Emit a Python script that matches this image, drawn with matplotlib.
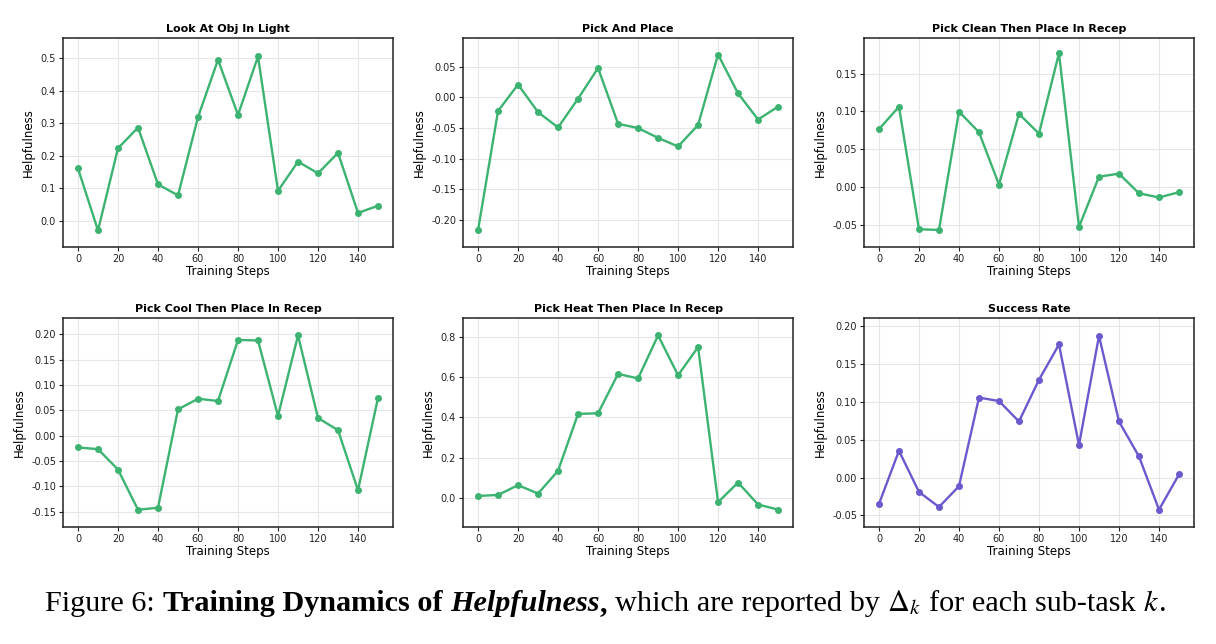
import matplotlib
matplotlib.use("Agg")
import matplotlib.pyplot as plt
import numpy as np

plt.rcParams["axes.unicode_minus"] = False
plt.rcParams["mathtext.fontset"] = "stix"

steps = [0, 10, 20, 30, 40, 50, 60, 70, 80, 90, 100, 110, 120, 130, 140, 150]

titles = [
    "Look At Obj In Light",
    "Pick And Place",
    "Pick Clean Then Place In Recep",
    "Pick Cool Then Place In Recep",
    "Pick Heat Then Place In Recep",
    "Success Rate",
]

look_at_obj = [0.161, -0.030, 0.223, 0.287, 0.112, 0.078, 0.319, 0.496,
               0.326, 0.506, 0.092, 0.182, 0.146, 0.209, 0.024, 0.046]
pick_and_place = [-0.2165, -0.022, 0.021, -0.024, -0.049, -0.002, 0.048, -0.043,
                  -0.050, -0.066, -0.080, -0.045, 0.070, 0.0066, -0.036, -0.015]
pick_clean = [0.0764, 0.106, -0.056, -0.057, 0.0997, 0.0723, 0.003, 0.0966,
              0.0705, 0.177, -0.053, 0.0135, 0.0175, -0.0085, -0.014, -0.007]
pick_cool = [-0.0231, -0.0264, -0.0667, -0.146, -0.142, 0.052, 0.073, 0.0686,
             0.189, 0.188, 0.039, 0.198, 0.035, 0.011, -0.1076, 0.0746]
pick_heat = [0.008, 0.013, 0.062, 0.020, 0.134, 0.418, 0.421, 0.618,
             0.595, 0.810, 0.611, 0.752, -0.023, 0.075, -0.035, -0.060]
success_rate = [-0.0349, 0.0353, -0.019, -0.0389, -0.0115, 0.1055, 0.101, 0.074,
                0.129, 0.1757, 0.0428, 0.187, 0.074, 0.0278, -0.0424, 0.004]

series = [look_at_obj, pick_and_place, pick_clean, pick_cool, pick_heat, success_rate]
ylims = [(-0.081, 0.563), (-0.244, 0.097), (-0.0795, 0.197),
         (-0.180, 0.2323), (-0.147, 0.897), (-0.0653, 0.2106)]
colors = ["#3CB371"] * 5 + ["#6A5ACD"]

fig = plt.figure(figsize=(12.16, 6.44), dpi=100)

lefts = [0.0518, 0.3808, 0.7105]
bottoms = [0.6165, 0.1817]
w, h = 0.2714, 0.3245

for i, (title, vals, col, yl) in enumerate(zip(titles, series, colors, ylims)):
    r, c = divmod(i, 3)
    ax = fig.add_axes([lefts[c], bottoms[r], w, h])
    ax.plot(steps, vals, color=col, lw=1.7, marker="o", ms=4, zorder=3)
    ax.set_ylim(*yl)
    ax.set_title(title, fontsize=8, fontweight="bold", pad=4)
    ax.set_xlabel("Training Steps", fontsize=8.5, labelpad=1)
    ax.set_ylabel("Helpfulness", fontsize=8.5, labelpad=4)
    ax.set_xticks([0, 20, 40, 60, 80, 100, 120, 140])
    ax.tick_params(labelsize=7, length=3, width=0.8, pad=2, colors="#222222")
    ax.grid(True, color="#e6e6e6", lw=0.8, zorder=0)
    for s in ax.spines.values():
        s.set_linewidth(1.1)
        s.set_color("#222222")
    if i in (1, 2, 3, 5):
        ax.yaxis.set_major_formatter(matplotlib.ticker.FormatStrFormatter("%.2f"))
    else:
        ax.yaxis.set_major_formatter(matplotlib.ticker.FormatStrFormatter("%.1f"))

# caption
fs = 21.8
pieces = [
    ("Figure 6: ", "normal", "normal"),
    ("Training Dynamics of ", "bold", "normal"),
    ("Helpfulness", "bold", "italic"),
    (",", "bold", "normal"),
    (" which are reported by ", "normal", "normal"),
    (r"$\Delta_k$", "normal", "normal"),
    (" for each sub-task ", "normal", "normal"),
    (r"$k$", "normal", "normal"),
    (".", "normal", "normal"),
]
renderer = fig.canvas.get_renderer()
ycap = 1 - 611 / 644
a1 = fig.text(0, 0, "a a", fontsize=fs, family="Liberation Serif")
a2 = fig.text(0, 0, "aa", fontsize=fs, family="Liberation Serif")
space_w = a1.get_window_extent(renderer).width - a2.get_window_extent(renderer).width
a1.remove()
a2.remove()

texts = []
widths = []
leads = []
for txt, wt, st in pieces:
    stripped = txt.strip(" ")
    nlead = len(txt) - len(txt.lstrip(" "))
    ntrail = len(txt) - len(txt.rstrip(" "))
    t = fig.text(0, ycap, stripped, fontsize=fs, family="Liberation Serif",
                 fontweight=wt, fontstyle=st, va="baseline", ha="left")
    core = t.get_window_extent(renderer).width
    texts.append(t)
    widths.append(core + (nlead + ntrail) * space_w)
    leads.append(nlead)
total = sum(widths)
figw = fig.bbox.width
cur = 606 - total / 2
for t, wd, nl in zip(texts, widths, leads):
    t.set_x((cur + nl * space_w) / figw)
    cur += wd

fig.savefig("out.png", dpi=100)
